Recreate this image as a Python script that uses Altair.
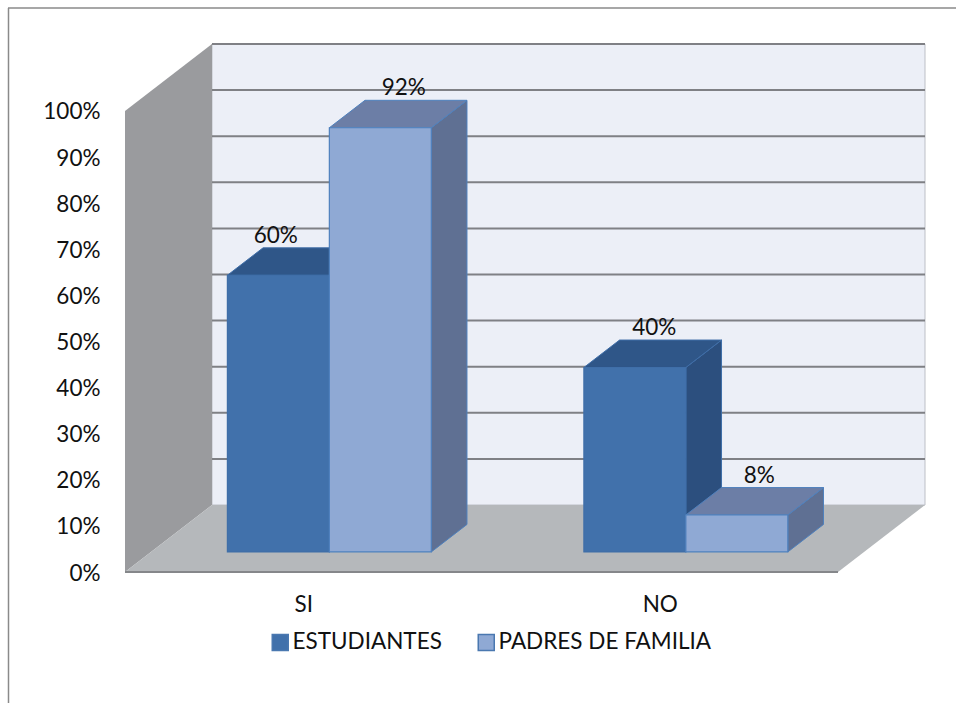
import altair as alt
import pandas as pd

# Survey results: share of answers per group
categories = ["SI", "NO"]
series_names = ["ESTUDIANTES", "PADRES DE FAMILIA"]
estudiantes = [60, 40]
padres = [92, 8]
tick_values = [0, 10, 20, 30, 40, 50, 60, 70, 80, 90, 100]

series_values = [estudiantes, padres]

# Face colours of the extruded columns, one entry per series
front_colors = ["#4171AB", "#8FA9D4"]
top_colors = ["#2F5688", "#6C7EA6"]
side_colors = ["#2C4F7E", "#5F7093"]
edge_colors = ["#3F6EA8", "#4F81BD"]

FONT = "Lato"
TEXT_SIZE = 22.5

# Oblique projection: the depth axis moves to the right and up, in axis units
DEPTH_X = 0.244
DEPTH_Y = 14.53
BAR_WIDTH = 0.286
CAT_GAP = (1 - 2 * BAR_WIDTH) / 2
FRONT_GAP = 0.30
BAR_DEPTH = 0.41

# Pixel nudges that keep each value label clear of its neighbour (category, series)
label_nudge = [[-24, 2], [-2, 1]]

X_MAX = len(categories) + DEPTH_X
Y_MAX = 100 + DEPTH_Y

x_scale = alt.Scale(domain=[0, X_MAX], nice=False, zero=False)
y_scale = alt.Scale(domain=[0, Y_MAX], nice=False, zero=False)

center_values = [i + 0.5 for i in range(len(categories))]
label_expr = f"{categories}[floor(datum.value)]"
x_axis = alt.Axis(
    values=center_values, labelExpr=label_expr, grid=False, ticks=False,
    domain=False, labelFont=FONT, labelFontSize=TEXT_SIZE, labelColor="#111111",
    labelPadding=21, labelAngle=0, title=None,
)
y_axis = alt.Axis(
    values=tick_values, labelExpr="datum.value + '%'", grid=False,
    ticks=False, domain=False, labelFont=FONT, labelFontSize=TEXT_SIZE,
    labelColor="#111111", labelPadding=25, labelOffset=1, title=None,
)
x_plain = alt.X("x:Q", scale=x_scale, axis=x_axis, title=None)
y_plain = alt.Y("y:Q", scale=y_scale, axis=y_axis, title=None)


def upright_face(x0, x1, lo0, hi0, lo1, hi1, fill, stroke=None, width=1):
    """Quadrilateral whose left and right edges are vertical."""
    frame = pd.DataFrame({"x": [x0, x1], "y": [lo0, lo1], "y2": [hi0, hi1]})
    kw = {"stroke": stroke, "strokeWidth": width} if stroke else {}
    return alt.Chart(frame).mark_area(orient="vertical", fill=fill, clip=False, **kw).encode(
        x=x_plain, y=y_plain, y2="y2:Q"
    )


def flat_face(y0, y1, a0, b0, a1, b1, fill, stroke=None, width=1):
    """Quadrilateral whose top and bottom edges are horizontal."""
    frame = pd.DataFrame({"y": [y0, y1], "x": [a0, a1], "x2": [b0, b1]})
    kw = {"stroke": stroke, "strokeWidth": width} if stroke else {}
    return alt.Chart(frame).mark_area(orient="horizontal", fill=fill, clip=False, **kw).encode(
        x=x_plain, y=y_plain, x2="x2:Q"
    )


layers = []

# Back wall
wall_frame = pd.DataFrame({
    "x": [DEPTH_X], "x2": [X_MAX], "y": [DEPTH_Y], "y2": [Y_MAX],
})
layers.append(
    alt.Chart(wall_frame).mark_rect(fill="#ECEFF7", stroke="#BDBFC6", strokeWidth=1).encode(
        x=x_plain, x2="x2:Q", y=y_plain, y2="y2:Q",
    )
)

# Horizontal grid lines across the back wall
grid_frame = pd.DataFrame({"y": [v + DEPTH_Y for v in tick_values if v > 0]})
grid_frame["x"] = DEPTH_X
grid_frame["x2"] = X_MAX
layers.append(
    alt.Chart(grid_frame).mark_rule(color="#7F8085", strokeWidth=2).encode(
        x=x_plain, x2="x2:Q", y=y_plain
    )
)

# Left wall and floor
layers.append(upright_face(0, DEPTH_X, 0, 100, DEPTH_Y, Y_MAX, "#9A9B9E"))
layers.append(flat_face(0, DEPTH_Y, 0, 2, DEPTH_X, X_MAX, "#B5B8BB"))
floor_edge = pd.DataFrame({"x": [0], "x2": [2], "y": [0]})
layers.append(
    alt.Chart(floor_edge).mark_rule(color="#85878A", strokeWidth=2).encode(
        x=x_plain, x2="x2:Q", y=y_plain
    )
)

# Columns, painted left to right so later faces overlap earlier ones
color_scale = alt.Scale(domain=series_names, range=front_colors)
legend = alt.Legend(
    orient="none", legendX=144, legendY=587, direction="horizontal", columns=2, title=None,
    symbolType="square", symbolSize=256, symbolStrokeColor="#4A78B0", symbolStrokeWidth=1.5,
    labelFont=FONT, labelFontSize=TEXT_SIZE, labelColor="#111111", columnPadding=33,
    labelOffset=1, labelLimit=400, padding=0, symbolOpacity=1,
)

base_y = FRONT_GAP * DEPTH_Y
for c, category in enumerate(categories):
    left = c + CAT_GAP + FRONT_GAP * DEPTH_X
    for s, name in enumerate(series_names):
        value = series_values[s][c]
        x0 = left + s * BAR_WIDTH
        x1 = x0 + BAR_WIDTH
        dx = BAR_DEPTH * DEPTH_X
        dy = BAR_DEPTH * DEPTH_Y
        top = base_y + value
        layers.append(upright_face(x1, x1 + dx, base_y, top, base_y + dy, top + dy,
                                   side_colors[s], edge_colors[s]))
        layers.append(flat_face(top, top + dy, x0, x1, x0 + dx, x1 + dx,
                                top_colors[s], edge_colors[s]))
        front = pd.DataFrame({
            "x": [x0], "x2": [x1], "y": [base_y], "y2": [top],
            "series": [name], "grupo": [category],
        })
        layers.append(
            alt.Chart(front).mark_rect(stroke=edge_colors[s], strokeWidth=1.2).encode(
                x=x_plain, x2="x2:Q", y=y_plain, y2="y2:Q",
                color=alt.Color("series:N", scale=color_scale, legend=legend),
            )
        )

# Value labels floating over the back edge of each column
for c, category in enumerate(categories):
    left = c + CAT_GAP + FRONT_GAP * DEPTH_X
    for s, name in enumerate(series_names):
        value = series_values[s][c]
        label = pd.DataFrame({
            "x": [left + (s + 0.5) * BAR_WIDTH + 0.6 * BAR_DEPTH * DEPTH_X],
            "y": [base_y + value + BAR_DEPTH * DEPTH_Y],
            "text": [f"{value}%"],
        })
        layers.append(
            alt.Chart(label).mark_text(
                font=FONT, fontSize=TEXT_SIZE, color="#111111", dy=-12,
                dx=label_nudge[c][s], baseline="middle",
            ).encode(x=x_plain, y=y_plain, text="text:N")
        )

# Thin outer frame of the figure, open on the right and at the bottom
layers.append(
    alt.Chart(pd.DataFrame({"k": [0]})).mark_rule(color="#8A8A8A", strokeWidth=1.5).encode(
        x=alt.value(-116.5), y=alt.value(-36), y2=alt.value(659)
    )
)
layers.append(
    alt.Chart(pd.DataFrame({"k": [0]})).mark_rule(color="#8A8A8A", strokeWidth=1.5).encode(
        x=alt.value(-117), x2=alt.value(831), y=alt.value(-36)
    )
)

chart = (
    alt.layer(*layers)
    .properties(
        width=800,
        height=528,
        autosize=alt.AutoSizeParams(type="none"),
        padding={"left": 125, "top": 44, "right": 31, "bottom": 131},
        background="white",
    )
    .configure_view(stroke=None)
)

chart.save("out.html", embed_options={"renderer": "svg", "actions": False})
